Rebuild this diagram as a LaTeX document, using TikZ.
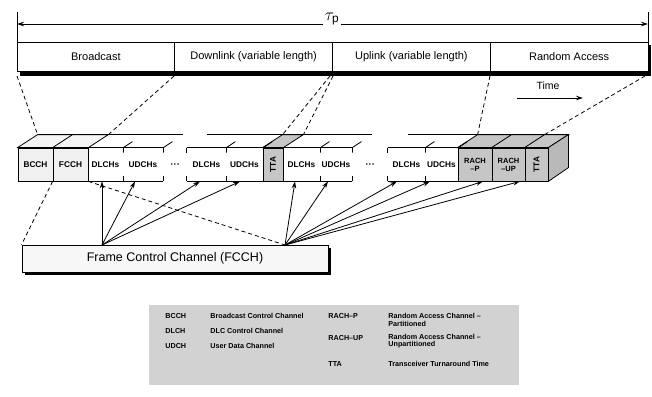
\documentclass[tikz,border=0pt]{standalone}
\usepackage{fontspec}
\setmainfont{Liberation Sans}
\usetikzlibrary{arrows.meta,calc}

\tikzset{
  sect/.style={draw, thick, fill=white, minimum height=29pt, minimum width=157.75pt, inner sep=0pt, font=\fontsize{11}{12}\selectfont},
  cell/.style={minimum height=33pt, inner sep=0pt, font=\bfseries\fontsize{8.3}{9}\selectfont},
  lit/.style={cell, draw, thick, fill=gray!12},
  dark/.style={cell, draw, thick, fill=gray!45},
  zoomline/.style={thick, dash pattern=on 4pt off 3pt},
  legtext/.style={anchor=west, inner sep=0pt, font=\bfseries\fontsize{7.2}{7.6}\selectfont, align=left},
}

% top face of a closed run of cells, from #1 to #2
\newcommand\topface[3]{%
  \filldraw[thick, fill=#3] (#1.north west) -- ++(20,-13) -- ($(#2.north east)+(20,-13)$) -- (#2.north east) -- cycle;}
% open run of two cells: edges plus ticks at the cell borders
\newcommand\openrun[2]{%
  \draw[thick] (#1.north west) -- (#2.north east) (#1.south west) -- (#2.south east);
  \draw[thick] ($(#1.north west)+(20,-13)$) -- ($(#2.north east)+(20,-13)$);
  \foreach \b in {#1.north east,#2.north east} \draw[thick] (\b) -- ++(0,5) (\b) -- ++(9,-6);
  \foreach \b in {#1.south east,#2.south east} \draw[thick] (\b) -- ++(0,-5);}

\begin{document}
\begin{tikzpicture}[x=1pt, y=-1pt, >={Stealth[length=7pt,width=4.5pt]}, thick]
  \useasboundingbox (0,0) rectangle (652,396);

  % frame length
  \coordinate (tl) at (17,24);
  \coordinate (tr) at (648,24);
  \draw (17,12) -- (17,42) (648,12) -- (648,42);
  \draw[<->] (tl) -- (tr);
  \node[fill=white, inner sep=2pt, font=\fontsize{17}{17}\selectfont] (tau) at (332,19) {$\tau_{\mathrm{p}}$};

  % the four phases of the frame
  \fill (20,45) rectangle (651,76);
  \node[sect] (bc) at (95.9,56.5) {Broadcast};
  \node[sect] (dl) at (253.6,56.5) {Downlink (variable length)};
  \node[sect] (ul) at (411.4,56.5) {Uplink (variable length)};
  \node[sect] (ra) at (569.1,56.5) {Random Access};

  \node[font=\fontsize{10.5}{12}\selectfont] (time) at (548,86) {Time};
  \coordinate (t0) at (517,98);
  \coordinate (t1) at (583,98);
  \draw[->] (t0) -- (t1);

  % channels of one frame
  \node[lit, minimum width=35pt] (bcch) at (35.5,164.5) {BCCH};
  \node[lit, minimum width=35pt] (fcch) at (70.5,164.5) {FCCH};
  \node[cell, minimum width=35pt] (dl1a) at (105.5,164.5) {DLCHs};
  \node[cell, minimum width=40pt] (dl1b) at (143,164.5) {UDCHs};
  \node[cell, font=\fontsize{6}{6}\selectfont] (gap1) at (175,165) {\textbullet\,\textbullet\,\textbullet};
  \node[cell, minimum width=39pt] (dl2a) at (206.5,164.5) {DLCHs};
  \node[cell, minimum width=37pt] (dl2b) at (244.5,164.5) {UDCHs};
  \node[dark, minimum width=20pt] (tta1) at (273,164.5) {};
  \node[cell, minimum width=37pt] (ul1a) at (301.5,164.5) {DLCHs};
  \node[cell, minimum width=32pt] (ul1b) at (336,164.5) {UDCHs};
  \node[cell, font=\fontsize{6}{6}\selectfont] (gap2) at (370,165) {\textbullet\,\textbullet\,\textbullet};
  \node[cell, minimum width=37pt] (ul2a) at (406.5,164.5) {DLCHs};
  \node[cell, minimum width=33pt] (ul2b) at (441.5,164.5) {UDCHs};
  \node[dark, minimum width=34pt, align=center, font=\bfseries\fontsize{7.5}{8}\selectfont] (rachp) at (475,164.5) {RACH\\--P};
  \node[dark, minimum width=33pt, align=center, font=\bfseries\fontsize{7.5}{8}\selectfont] (rachup) at (508.5,164.5) {RACH\\--UP};
  \node[dark, minimum width=23pt] (tta2) at (536.5,164.5) {};
  \node[rotate=90, font=\bfseries\fontsize{8.3}{9}\selectfont] (tta1l) at (tta1) {TTA};
  \node[rotate=90, font=\bfseries\fontsize{8.3}{9}\selectfont] (tta2l) at (tta2) {TTA};

  \topface{bcch}{bcch}{gray!8}
  \topface{fcch}{fcch}{gray!8}
  \topface{tta1}{tta1}{gray!45}
  \topface{rachp}{rachp}{gray!45}
  \topface{rachup}{rachup}{gray!45}
  \topface{tta2}{tta2}{gray!45}
  \filldraw[fill=gray!55] (tta2.north east) -- ++(20,-13) -- ++(0,33) -- (tta2.south east) -- cycle;
  \openrun{dl1a}{dl1b}
  \openrun{dl2a}{dl2b}
  \openrun{ul1a}{ul1b}
  \openrun{ul2a}{ul2b}
  \draw (dl2a.north west) -- ++(0,5) (dl2a.south west) -- ++(0,-5);
  \draw (ul2a.north west) -- ++(0,5) (ul2a.south west) -- ++(0,-5);

  % which part of the frame goes where
  \draw[zoomline] (17,76) -- ($(bcch.north west)+(20,-13)$);
  \draw[zoomline] (174,76) -- ($(fcch.north east)+(20,-13)$);
  \draw[zoomline] (330,76) -- ($(tta1.north west)+(20,-13)$);
  \draw[zoomline] (333,76) -- ($(tta1.north east)+(20,-13)$);
  \draw[zoomline] (490,76) -- ($(rachp.north west)+(20,-13)$);
  \draw[zoomline] (645,76) -- ($(tta2.north west)+(20,-13)$);

  % frame control channel and what it points to
  \fill (25,248) rectangle (331,275);
  \node[draw, thick, fill=gray!6, minimum width=306pt, minimum height=27pt, font=\fontsize{12.5}{14}\selectfont] (fc) at (175,258.5) {Frame Control Channel (FCCH)};
  \coordinate (p1) at (102,245);
  \coordinate (p2) at (285,245);
  \draw[zoomline] (fcch.south west) -- (fc.north west);
  \draw[zoomline] (fcch.south east) -- (p2);
  \foreach \c/\s in {dl1a/-3.5,dl1b/-8,dl2a/-6.5,dl2b/-4.5}
    \draw[->] (p1) -- ([xshift=\s pt]\c.south);
  \foreach \c/\s in {ul1a/-6.5,ul1b/-8,ul2a/-9.5,ul2b/-11.5,rachp/8,rachup/11.5}
    \draw[->] (p2) -- ([xshift=\s pt]\c.south);

  % abbreviations
  \node[fill=gray!35, minimum width=370pt, minimum height=80pt] (key) at (334,345) {};
  \node[legtext] (k1) at (165,316) {BCCH};
  \node[legtext] (k2) at (165,331) {DLCH};
  \node[legtext] (k3) at (165,346) {UDCH};
  \node[legtext] (d1) at (210,316) {Broadcast Control Channel};
  \node[legtext] (d2) at (210,331) {DLC Control Channel};
  \node[legtext] (d3) at (210,346) {User Data Channel};
  \node[legtext] (k4) at (328,316) {RACH--P};
  \node[legtext] (k5) at (328,338) {RACH--UP};
  \node[legtext] (k6) at (328,364) {TTA};
  \node[legtext] (d4) at (388,320) {Random Access Channel --\\Partitioned};
  \node[legtext] (d5) at (388,341) {Random Access Channel --\\Unpartitioned};
  \node[legtext] (d6) at (388,364) {Transceiver Turnaround Time};
\end{tikzpicture}
\end{document}
